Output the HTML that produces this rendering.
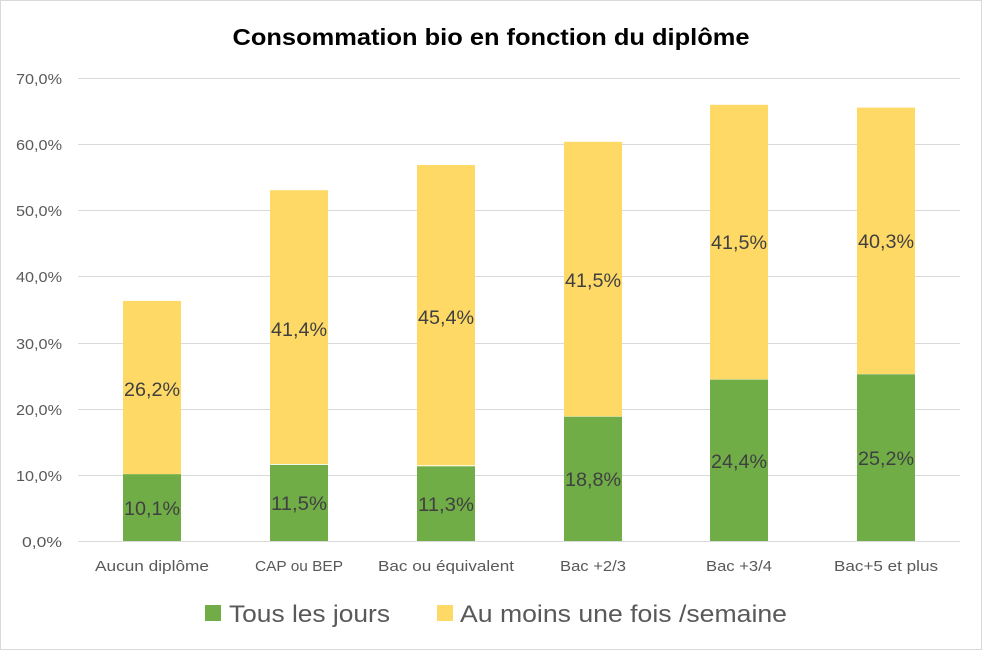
<!DOCTYPE html>
<html><head><meta charset="utf-8"><style>
html,body{margin:0;padding:0;background:#fff;}
svg{display:block;font-family:"Liberation Sans",sans-serif;}
</style></head><body>
<svg width="983" height="651" viewBox="0 0 983 651" xmlns="http://www.w3.org/2000/svg">
<rect x="0.5" y="0.5" width="981" height="649" fill="#fff" stroke="#d9d9d9"/>
<text x="491" y="45" text-anchor="middle" font-size="23" font-weight="bold" fill="#000" textLength="517" lengthAdjust="spacingAndGlyphs">Consommation bio en fonction du diplôme</text>
<g stroke="#d9d9d9" stroke-width="1">
<line x1="78" x2="960" y1="541.5" y2="541.5"/>
<line x1="78" x2="960" y1="475.5" y2="475.5"/>
<line x1="78" x2="960" y1="409.5" y2="409.5"/>
<line x1="78" x2="960" y1="343.5" y2="343.5"/>
<line x1="78" x2="960" y1="276.5" y2="276.5"/>
<line x1="78" x2="960" y1="210.5" y2="210.5"/>
<line x1="78" x2="960" y1="144.5" y2="144.5"/>
<line x1="78" x2="960" y1="78.5" y2="78.5"/>
</g>
<g font-size="15" fill="#595959" text-anchor="end">
<text x="62" y="547" textLength="40" lengthAdjust="spacingAndGlyphs">0,0%</text>
<text x="62" y="481" textLength="46" lengthAdjust="spacingAndGlyphs">10,0%</text>
<text x="62" y="415" textLength="46" lengthAdjust="spacingAndGlyphs">20,0%</text>
<text x="62" y="349" textLength="46" lengthAdjust="spacingAndGlyphs">30,0%</text>
<text x="62" y="282" textLength="46" lengthAdjust="spacingAndGlyphs">40,0%</text>
<text x="62" y="216" textLength="46" lengthAdjust="spacingAndGlyphs">50,0%</text>
<text x="62" y="150" textLength="46" lengthAdjust="spacingAndGlyphs">60,0%</text>
<text x="62" y="84" textLength="46" lengthAdjust="spacingAndGlyphs">70,0%</text>
</g>
<g>
<rect x="123" y="300.9" width="58" height="173.3" fill="#FFD966"/>
<rect x="123" y="474.2" width="58" height="66.8" fill="#70AD47"/>
<rect x="270" y="190.2" width="58" height="273.8" fill="#FFD966"/>
<rect x="270" y="464.9" width="58" height="76.1" fill="#70AD47"/>
<rect x="417" y="165.0" width="58" height="300.3" fill="#FFD966"/>
<rect x="417" y="466.3" width="58" height="74.7" fill="#70AD47"/>
<rect x="564" y="141.8" width="58" height="274.5" fill="#FFD966"/>
<rect x="564" y="416.7" width="58" height="124.3" fill="#70AD47"/>
<rect x="710" y="104.8" width="58" height="274.5" fill="#FFD966"/>
<rect x="710" y="379.6" width="58" height="161.4" fill="#70AD47"/>
<rect x="857" y="107.6" width="58" height="266.5" fill="#FFD966"/>
<rect x="857" y="374.3" width="58" height="166.7" fill="#70AD47"/>
</g>
<g font-size="19" fill="#404040" text-anchor="middle">
<text x="152" y="515" textLength="56" lengthAdjust="spacingAndGlyphs">10,1%</text>
<text x="152" y="396" textLength="56" lengthAdjust="spacingAndGlyphs">26,2%</text>
<text x="299" y="510" textLength="56" lengthAdjust="spacingAndGlyphs">11,5%</text>
<text x="299" y="336" textLength="56" lengthAdjust="spacingAndGlyphs">41,4%</text>
<text x="446" y="511" textLength="56" lengthAdjust="spacingAndGlyphs">11,3%</text>
<text x="446" y="324" textLength="56" lengthAdjust="spacingAndGlyphs">45,4%</text>
<text x="593" y="486" textLength="56" lengthAdjust="spacingAndGlyphs">18,8%</text>
<text x="593" y="287" textLength="56" lengthAdjust="spacingAndGlyphs">41,5%</text>
<text x="739" y="468" textLength="56" lengthAdjust="spacingAndGlyphs">24,4%</text>
<text x="739" y="249" textLength="56" lengthAdjust="spacingAndGlyphs">41,5%</text>
<text x="886" y="465" textLength="56" lengthAdjust="spacingAndGlyphs">25,2%</text>
<text x="886" y="248" textLength="56" lengthAdjust="spacingAndGlyphs">40,3%</text>
</g>
<g font-size="15" fill="#595959" text-anchor="middle">
<text x="152" y="571" textLength="114" lengthAdjust="spacingAndGlyphs">Aucun diplôme</text>
<text x="299" y="571" textLength="88" lengthAdjust="spacingAndGlyphs">CAP ou BEP</text>
<text x="446" y="571" textLength="136" lengthAdjust="spacingAndGlyphs">Bac ou équivalent</text>
<text x="593" y="571" textLength="66" lengthAdjust="spacingAndGlyphs">Bac +2/3</text>
<text x="739" y="571" textLength="66" lengthAdjust="spacingAndGlyphs">Bac +3/4</text>
<text x="886" y="571" textLength="104" lengthAdjust="spacingAndGlyphs">Bac+5 et plus</text>
</g>
<rect x="205" y="605" width="16" height="16" fill="#70AD47"/>
<text x="229" y="622" font-size="24" fill="#595959" textLength="161" lengthAdjust="spacingAndGlyphs">Tous les jours</text>
<rect x="437" y="605" width="16" height="16" fill="#FFD966"/>
<text x="460" y="622" font-size="24" fill="#595959" textLength="327" lengthAdjust="spacingAndGlyphs">Au moins une fois /semaine</text>
</svg>
</body></html>
